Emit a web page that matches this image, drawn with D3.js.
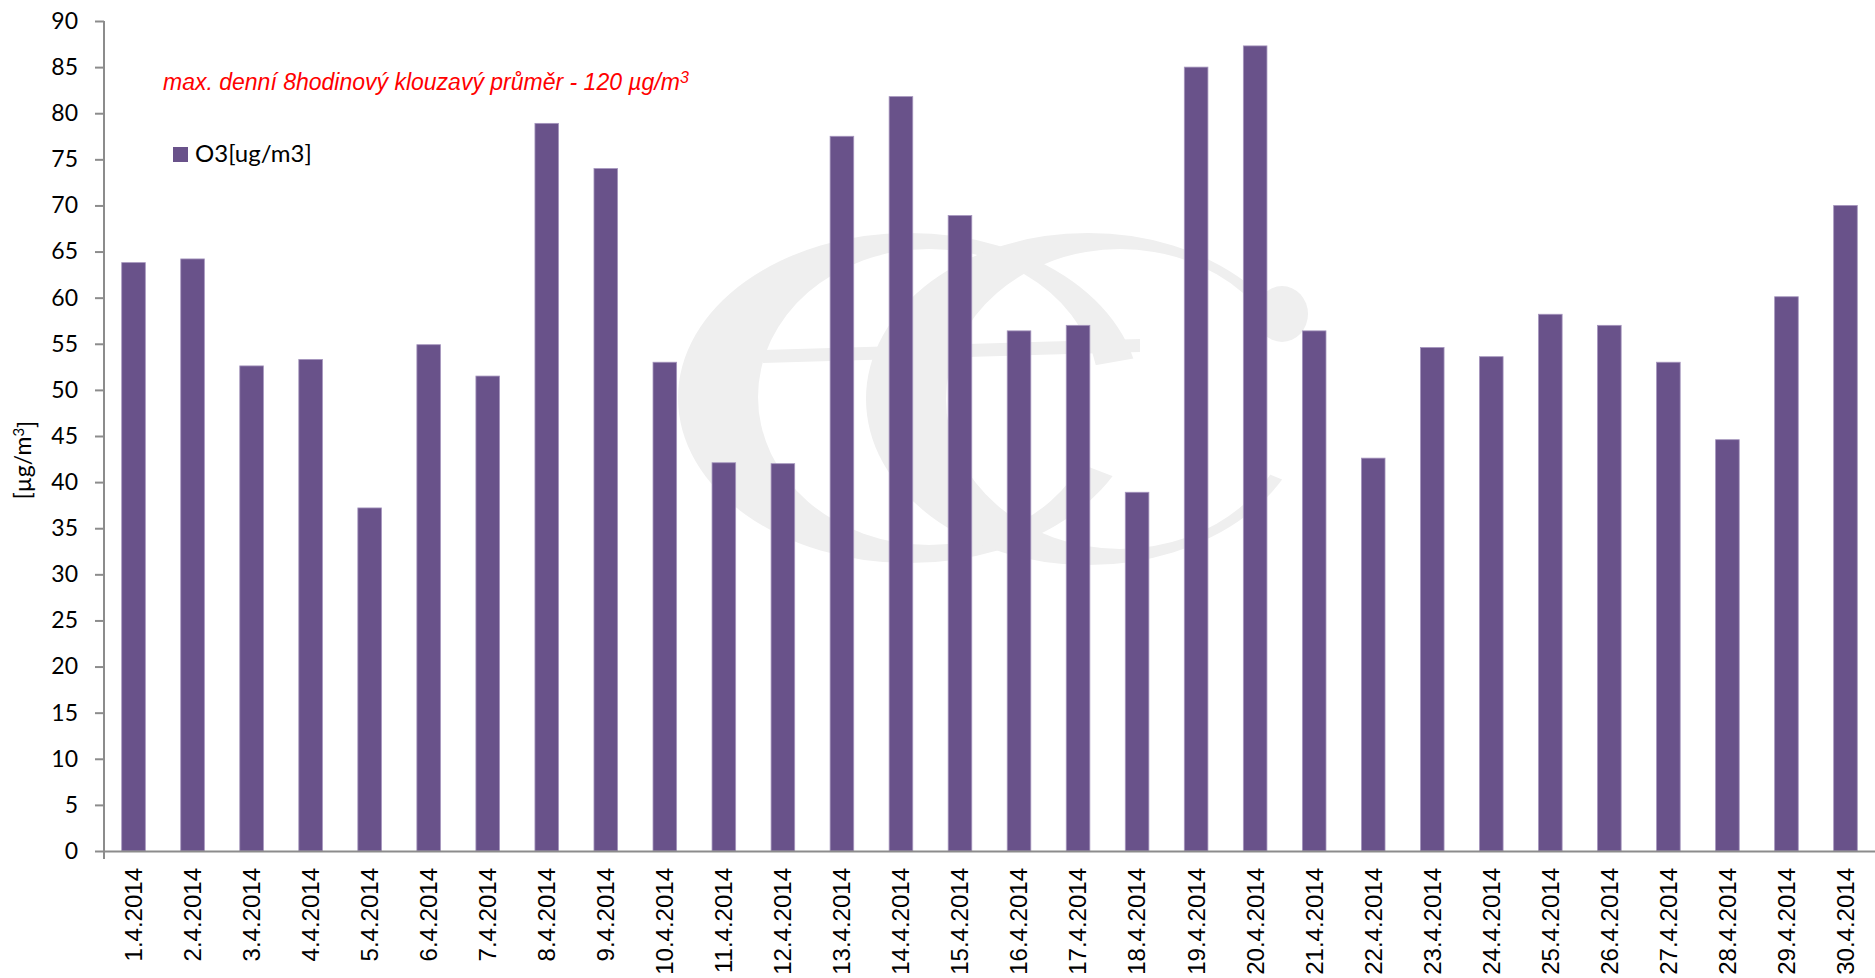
<!DOCTYPE html>
<html>
<head>
<meta charset="utf-8">
<script src="https://cdn.jsdelivr.net/npm/d3@7"></script>
<style>
  html, body { margin: 0; padding: 0; background: #fff; }
  svg { display: block; }
</style>
</head>
<body>
<script>
// daily max 8h running mean of O3, April 2014
var days = ["1.4.2014", "2.4.2014", "3.4.2014", "4.4.2014", "5.4.2014", "6.4.2014",
  "7.4.2014", "8.4.2014", "9.4.2014", "10.4.2014", "11.4.2014", "12.4.2014",
  "13.4.2014", "14.4.2014", "15.4.2014", "16.4.2014", "17.4.2014", "18.4.2014",
  "19.4.2014", "20.4.2014", "21.4.2014", "22.4.2014", "23.4.2014", "24.4.2014",
  "25.4.2014", "26.4.2014", "27.4.2014", "28.4.2014", "29.4.2014", "30.4.2014"];

var o3 = [63.8, 64.2, 52.6, 53.3, 37.2, 54.9, 51.5, 78.9, 74.0, 53.0,
  42.1, 42.0, 77.5, 81.8, 68.9, 56.4, 57.0, 38.9, 85.0, 87.3,
  56.4, 42.6, 54.6, 53.6, 58.2, 57.0, 53.0, 44.6, 60.1, 70.0];

var yTicks = d3.range(0, 91, 5);

var seriesName = "O3[ug/m3]";
var noteText = "max. denní 8hodinový klouzavý průměr - 120 µg/m";

var W = 1875, H = 978;
var margin = {top: 21, right: 0, bottom: 127, left: 104};
var width = W - margin.left - margin.right,
    height = H - margin.top - margin.bottom;

var svg = d3.select("body").append("svg")
    .attr("width", W)
    .attr("height", H);

var defs = svg.append("defs");

// faint "eC" logo watermark behind the plot
var wm = svg.append("g").attr("fill", "#efefef").attr("stroke", "none");

function ellipsePath(cx, cy, rx, ry) {
  return "M" + (cx - rx) + "," + cy +
    "a" + rx + "," + ry + " 0 1,0 " + (2 * rx) + ",0" +
    "a" + rx + "," + ry + " 0 1,0 " + (-2 * rx) + ",0Z";
}

// open the ring on its right side between two angles (radians)
function wedgeClip(id, cx, cy, a0, a1) {
  var r = 400;
  var p = [[cx - r, cy - r], [cx + r, cy - r],
    [cx + r, cy + Math.tan(a0) * r], [cx, cy],
    [cx + r, cy + Math.tan(a1) * r], [cx + r, cy + r],
    [cx - r, cy + r]];
  defs.append("clipPath").attr("id", id)
    .append("path").attr("d", "M" + p.join("L") + "Z");
}

var deg = Math.PI / 180;

// letter "e"
wedgeClip("wm-e", 909, 398, -10 * deg, 21 * deg);
wm.append("path")
    .attr("fill-rule", "evenodd")
    .attr("clip-path", "url(#wm-e)")
    .attr("d", ellipsePath(909, 398, 231, 165) + ellipsePath(929, 397, 171, 148));
wm.append("path")
    .attr("d", "M763,350L1140,339L1140,352L763,363Z");

// letter "C"
wedgeClip("wm-c", 1088, 399, -22 * deg, 22.5 * deg);
wm.append("path")
    .attr("fill-rule", "evenodd")
    .attr("clip-path", "url(#wm-c)")
    .attr("d", ellipsePath(1088, 399, 222, 166) + ellipsePath(1120, 399, 174, 150));
wm.append("ellipse")
    .attr("cx", 1282).attr("cy", 314).attr("rx", 26).attr("ry", 28);

var g = svg.append("g")
    .attr("transform", "translate(" + margin.left + "," + margin.top + ")");

var x = d3.scaleBand()
    .domain(days)
    .range([0, width])
    .paddingInner(0.6)
    .paddingOuter(0.3);

var y = d3.scaleLinear()
    .domain([0, 90])
    .range([height, 0]);

// bars
g.selectAll("rect.bar")
    .data(o3)
    .enter().append("rect")
    .attr("class", "bar")
    .attr("x", function(d, i) { return x(days[i]); })
    .attr("y", function(d) { return y(d); })
    .attr("width", x.bandwidth())
    .attr("height", function(d) { return height - y(d); })
    .attr("fill", "#69528a")
    .attr("stroke", "#a595bd")
    .attr("stroke-width", 0.8);

// y axis
var yAxis = g.append("g")
    .call(d3.axisLeft(y).tickValues(yTicks).tickSize(9).tickPadding(17).tickSizeOuter(0));
yAxis.select(".domain").remove();
yAxis.append("line")
    .attr("x1", 0).attr("x2", 0)
    .attr("y1", 0).attr("y2", height + 8)
    .attr("stroke", "#8c8c8c").attr("stroke-width", 2);
yAxis.selectAll(".tick line").attr("stroke", "#8c8c8c").attr("stroke-width", 2);
yAxis.selectAll(".tick text")
    .attr("fill", "#000")
    .style("font-family", "Lato, 'Open Sans', sans-serif")
    .style("font-size", "23px");

// x axis
var xAxis = g.append("g")
    .attr("transform", "translate(0," + height + ")")
    .call(d3.axisBottom(x).tickSize(0).tickPadding(0));
xAxis.select(".domain")
    .attr("stroke", "#8c8c8c").attr("stroke-width", 2);
xAxis.selectAll(".tick text")
    .attr("fill", "#000")
    .style("font-family", "'Liberation Sans', Arial, sans-serif")
    .style("font-size", "24px")
    .attr("text-anchor", "end")
    .attr("dy", "0.35em")
    .attr("transform", "translate(0,17) rotate(-90)");

// y axis title
svg.append("text")
    .attr("transform", "translate(31,460) rotate(-90)")
    .attr("text-anchor", "middle")
    .style("font-family", "Lato, 'Open Sans', sans-serif")
    .style("font-size", "23px")
    .text("[µg/m")
  .append("tspan")
    .attr("dy", "-0.45em").style("font-size", "15px").text("3")
  .select(function() { return this.parentNode; })
  .append("tspan")
    .attr("dy", "0.45em").text("]");

// limit note
svg.append("text")
    .attr("x", 163).attr("y", 90)
    .attr("fill", "#ff0000")
    .style("font-family", "'Liberation Sans', Arial, sans-serif")
    .style("font-style", "italic")
    .style("font-size", "23px")
    .text(noteText)
  .append("tspan")
    .attr("dy", "-0.45em").style("font-size", "16px").text("3");

// legend
var legend = svg.append("g").attr("transform", "translate(173,147)");
legend.append("rect")
    .attr("width", 15).attr("height", 15)
    .attr("fill", "#69528a");
legend.append("text")
    .attr("x", 22).attr("y", 15)
    .style("font-family", "Lato, 'Open Sans', sans-serif")
    .style("font-size", "24px")
    .text(seriesName);
</script>
</body>
</html>
